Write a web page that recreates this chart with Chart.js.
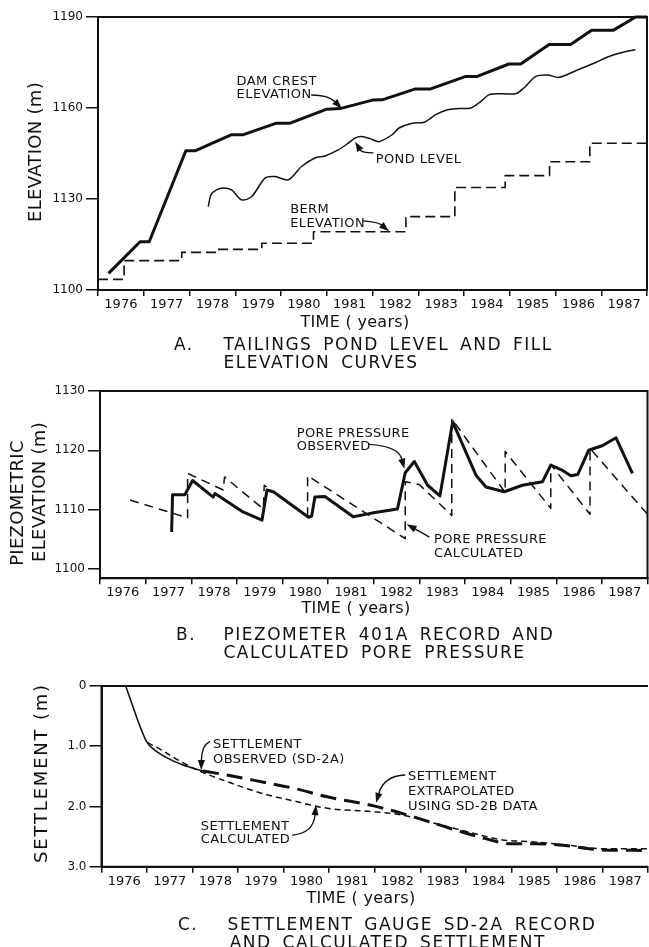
<!DOCTYPE html>
<html><head><meta charset="utf-8">
<script src="https://cdn.jsdelivr.net/npm/chart.js@4/dist/chart.umd.min.js"></script>
<style>
html,body{margin:0;padding:0;background:#fff;}
#page{position:relative;width:649px;height:947px;overflow:hidden;background:#fff;font-family:"DejaVu Sans",sans-serif;color:#111;}
canvas{position:absolute;left:0;top:0;}
.t{position:absolute;white-space:nowrap;line-height:1;}
.r{position:absolute;white-space:nowrap;line-height:1;transform:translate(-50%,-50%) rotate(-90deg);}
</style></head>
<body><div id="page">
<canvas id="cA" width="649" height="947"></canvas>
<canvas id="cB" width="649" height="947"></canvas>
<canvas id="cC" width="649" height="947"></canvas>
</div>
<script>
// ---------- DATA ----------
const yearLabels = ['1976','1977','1978','1979','1980','1981','1982','1983','1984','1985','1986','1987'];

// Panel A: tailings pond level and fill elevation
const elevTicks = [1100, 1130, 1160, 1190];
const damYears = [1976.23,1976.92,1977.12,1977.92,1978.12,1978.92,1979.18,1979.9,1980.2,1981.0,1981.29,1982.0,1982.21,1982.94,1983.27,1984.04,1984.29,1984.98,1985.24,1985.86,1986.33,1986.79,1987.26,1987.75,1988.0];
const damElev  = [1105.5,1115.9,1115.9,1145.9,1145.9,1151.2,1151.2,1155.0,1155.0,1159.6,1159.8,1162.6,1162.7,1166.3,1166.3,1170.4,1170.4,1174.5,1174.5,1180.9,1180.9,1185.6,1185.6,1190.0,1190.0];
const pondYears = [1978.41,1978.47,1978.59,1978.74,1978.92,1979.14,1979.36,1979.65,1979.87,1980.16,1980.45,1980.74,1980.96,1981.25,1981.47,1981.62,1981.76,1981.95,1982.14,1982.43,1982.58,1982.87,1983.13,1983.38,1983.64,1983.89,1984.15,1984.37,1984.55,1984.84,1985.13,1985.31,1985.57,1985.82,1986.08,1986.44,1986.88,1987.17,1987.46,1987.75];
const pondElev  = [1127.5,1131.4,1133.0,1133.6,1133.0,1129.7,1130.8,1136.9,1137.4,1136.3,1140.7,1143.5,1144.2,1146.2,1148.4,1150.1,1150.6,1149.9,1148.9,1151.2,1153.4,1155.0,1155.3,1157.8,1159.4,1159.8,1160.0,1162.2,1164.4,1164.7,1164.7,1166.6,1170.4,1170.9,1170.1,1172.3,1175.0,1177.0,1178.3,1179.2];
const bermYears = [1976.0,1976.57,1977.83,1978.59,1979.58,1980.71,1982.73,1983.8,1984.9,1985.87,1986.75,1988.0];
const bermElev  = [1103.5,1109.7,1112.4,1113.4,1115.4,1119.2,1124.2,1133.8,1137.7,1142.3,1148.4,1148.4];

// Panel B: piezometer 401A record and calculated pore pressure
const piezoTicks = [1100, 1110, 1120, 1130];
const obsYears = [1977.57,1977.59,1977.86,1978.03,1978.48,1978.52,1979.11,1979.55,1979.66,1979.8,1980.57,1980.64,1980.71,1980.93,1981.55,1981.96,1982.52,1982.69,1982.89,1983.18,1983.45,1983.73,1984.02,1984.24,1984.46,1984.86,1985.26,1985.7,1985.88,1986.14,1986.32,1986.47,1986.71,1987.02,1987.31,1987.67];
const obsElev  = [1106.2,1112.5,1112.5,1114.9,1112.1,1112.7,1109.7,1108.2,1113.3,1113.0,1108.7,1108.9,1112.1,1112.2,1108.8,1109.4,1110.1,1116.2,1118.1,1114.1,1112.3,1124.8,1119.7,1115.8,1113.8,1113.0,1114.1,1114.7,1117.5,1116.6,1115.7,1115.9,1120.0,1120.8,1122.1,1116.1];
const calcYears = [1976.66,1977.92,1977.92,1978.7,1978.73,1979.58,1979.6,1980.55,1980.55,1982.69,1982.69,1983.0,1983.71,1983.71,1984.88,1984.88,1985.88,1985.88,1986.74,1986.74,1988.0];
const calcElev  = [1111.6,1108.6,1116.1,1113.3,1115.5,1110.1,1114.1,1108.8,1115.7,1105.1,1114.7,1114.2,1109.0,1125.3,1112.9,1119.8,1110.2,1117.6,1109.2,1120.3,1109.2];

// Panel C: settlement gauge SD-2A record and calculated settlement
const settleTicks = [0, 1, 2, 3];
const settleTickLabels = ['0', '1.0', '2.0', '3.0'];
const sObsYears = [1976.53,1976.99,1977.17,1977.46,1977.79,1978.23];
const sObsVal   = [0.0,0.925,1.063,1.201,1.312,1.412];
const sExtYears = [1978.23,1978.63,1979.51,1980.23,1980.96,1981.98,1982.29,1982.58,1983.31,1983.9,1984.41,1984.99,1985.5,1986.08,1986.96,1988.0];
const sExtVal   = [1.412,1.462,1.59,1.70,1.84,1.99,2.05,2.11,2.28,2.42,2.53,2.62,2.62,2.64,2.72,2.73];
const sCalcYears = [1977.01,1977.32,1977.68,1978.19,1978.77,1979.51,1980.23,1980.96,1981.85,1982.58,1983.31,1984.04,1984.77,1985.5,1986.23,1986.96,1988.0];
const sCalcVal   = [0.94,1.063,1.229,1.424,1.59,1.78,1.91,2.03,2.08,2.14,2.28,2.42,2.55,2.59,2.64,2.70,2.70];

// ---------- HELPERS ----------
const FONT = '"DejaVu Sans", sans-serif';
const INK = '#111';
const pts = (xs, ys) => xs.map((x, i) => ({x: x, y: ys[i]}));
const page = document.getElementById('page');

function addText(s, left, baseline, size, ls, ws) {
  const d = document.createElement('div');
  d.className = 't'; d.textContent = s;
  d.style.left = left + 'px';
  d.style.top = (baseline - 0.846 * size) + 'px';
  d.style.fontSize = size + 'px';
  d.style.letterSpacing = (ls || 0) + 'px';
  d.style.wordSpacing = (ws || 0) + 'px';
  page.appendChild(d);
}
function addCentered(s, cx, baseline, size, ls, ws) {
  const d = document.createElement('div');
  d.className = 't'; d.textContent = s;
  d.style.left = cx + 'px';
  d.style.top = (baseline - 0.846 * size) + 'px';
  d.style.fontSize = size + 'px';
  d.style.letterSpacing = (ls || 0) + 'px';
  d.style.wordSpacing = (ws || 0) + 'px';
  d.style.transform = 'translateX(-50%)';
  page.appendChild(d);
}
function addRot(s, cx, cy, size, ls) {
  const d = document.createElement('div');
  d.className = 'r'; d.textContent = s;
  d.style.left = cx + 'px'; d.style.top = cy + 'px';
  d.style.fontSize = size + 'px';
  d.style.letterSpacing = (ls || 0) + 'px';
  page.appendChild(d);
}

function xAxis() {
  return {
    type: 'linear', min: 1976, max: 1988,
    afterBuildTicks: s => { const t = []; for (let i = 0; i <= yearLabels.length * 2; i++) t.push({value: 1976 + i / 2}); s.ticks = t; },
    afterFit: s => { s.height = 22; },
    ticks: { autoSkip: false, maxRotation: 0, minRotation: 0, padding: 1, color: INK, font: {family: FONT, size: 13},
      callback: v => { const k = Math.round((v - 1976) * 2); return k % 2 === 1 ? yearLabels[(k - 1) / 2] : ''; } },
    grid: { drawOnChartArea: false, drawTicks: true, tickLength: 6, lineWidth: 1.5,
      color: c => (c.tick && Math.round((c.tick.value - 1976) * 2) % 2 === 0) ? INK : 'rgba(0,0,0,0)' },
    border: { display: true, color: INK, width: 2 }
  };
}
function yAxis(min, max, tickVals, tickLabels, width, reverse) {
  return {
    type: 'linear', min: min, max: max, reverse: !!reverse,
    afterBuildTicks: s => { s.ticks = tickVals.map(v => ({value: v})); },
    afterFit: s => { s.width = width; },
    ticks: { padding: 3, color: INK, font: {family: FONT, size: 12},
      callback: v => { const i = tickVals.indexOf(v); return i >= 0 ? tickLabels[i] : ''; } },
    grid: { drawOnChartArea: false, drawTicks: true, tickLength: 12, lineWidth: 1.5, color: INK },
    border: { display: true, color: INK, width: 2 }
  };
}

const annot = {
  id: 'annot',
  afterDatasetsDraw(chart, args, opts) {
    const ctx = chart.ctx, xs = chart.scales.x, ys = chart.scales.y, ca = chart.chartArea;
    ctx.save();
    ctx.strokeStyle = INK; ctx.lineWidth = 2;
    ctx.beginPath();
    ctx.moveTo(ca.left, ca.top); ctx.lineTo(ca.right, ca.top);
    if (!opts.noRight) { ctx.lineTo(ca.right, ca.bottom); } else { ctx.moveTo(ca.right, ca.bottom); }
    ctx.lineTo(ca.left, ca.bottom); ctx.lineTo(ca.left, ca.top);
    ctx.stroke();
    ctx.fillStyle = INK;
    ctx.font = '13px ' + FONT;
    ctx.textBaseline = 'alphabetic'; ctx.textAlign = 'left';
    if ('letterSpacing' in ctx) ctx.letterSpacing = '0.4px';
    (opts.texts || []).forEach(t => ctx.fillText(t.s, xs.getPixelForValue(t.x), ys.getPixelForValue(t.y)));
    ctx.lineWidth = 1.4; ctx.lineCap = 'round';
    (opts.arrows || []).forEach(a => {
      const fx = xs.getPixelForValue(a.from[0]), fy = ys.getPixelForValue(a.from[1]);
      const cx = xs.getPixelForValue(a.ctrl[0]), cy = ys.getPixelForValue(a.ctrl[1]);
      const tx = xs.getPixelForValue(a.to[0]), ty = ys.getPixelForValue(a.to[1]);
      const ang = Math.atan2(ty - cy, tx - cx), L = 10, W = 3.6;
      const bx = tx - L * Math.cos(ang), by = ty - L * Math.sin(ang);
      ctx.beginPath(); ctx.moveTo(fx, fy); ctx.quadraticCurveTo(cx, cy, bx, by); ctx.stroke();
      ctx.beginPath();
      ctx.moveTo(tx, ty);
      ctx.lineTo(bx + W * Math.sin(ang), by - W * Math.cos(ang));
      ctx.lineTo(bx - W * Math.sin(ang), by + W * Math.cos(ang));
      ctx.closePath(); ctx.fill();
    });
    ctx.restore();
  }
};

function line(data, width, dash, extra) {
  return Object.assign({ data: data, borderColor: INK, borderWidth: width, borderDash: dash || [],
    pointRadius: 0, fill: false, tension: 0, borderJoinStyle: 'round', clip: 4 }, extra || {});
}

function makeChart(id, box, datasets, y, annotOpts) {
  return new Chart(document.getElementById(id), {
    type: 'line',
    data: { datasets: datasets },
    options: {
      responsive: false, animation: false, devicePixelRatio: 1, events: [],
      layout: { padding: { left: 0, top: box.top, right: 649 - box.right, bottom: 947 - box.bottom - 22 } },
      scales: { x: xAxis(), y: y },
      plugins: { legend: {display: false}, tooltip: {enabled: false}, annot: annotOpts }
    },
    plugins: [annot]
  });
}

// ---------- PANEL A ----------
makeChart('cA', {top: 17, right: 647, bottom: 290}, [
  line(pts(damYears, damElev), 3),
  line(pts(pondYears, pondElev), 1.5, [], {tension: 0.3}),
  line(pts(bermYears, bermElev), 1.6, [10, 5], {stepped: 'before'})
], yAxis(1100, 1190, elevTicks, elevTicks.map(String), 98), {
  texts: [
    {s: 'DAM CREST', x: 1979.03, y: 1167.6}, {s: 'ELEVATION', x: 1979.03, y: 1163.2},
    {s: 'POND LEVEL', x: 1982.07, y: 1142.0},
    {s: 'BERM', x: 1980.2, y: 1125.3}, {s: 'ELEVATION', x: 1980.2, y: 1120.9}
  ],
  arrows: [
    {from: [1980.67, 1164.3], ctrl: [1981.03, 1164.3], to: [1981.33, 1159.8]},
    {from: [1982.01, 1145.2], ctrl: [1981.77, 1145.2], to: [1981.62, 1148.9]},
    {from: [1981.8, 1122.8], ctrl: [1982.12, 1122.4], to: [1982.36, 1119.4]}
  ]
});

// ---------- PANEL B ----------
makeChart('cB', {top: 391, right: 647.5, bottom: 578.3}, [
  line(pts(obsYears, obsElev), 3),
  line(pts(calcYears, calcElev), 1.5, [9, 6])
], yAxis(1098.4, 1130, piezoTicks, piezoTicks.map(String), 100), {
  texts: [
    {s: 'PORE PRESSURE', x: 1980.31, y: 1122.2}, {s: 'OBSERVED', x: 1980.31, y: 1120.0},
    {s: 'PORE PRESSURE', x: 1983.32, y: 1104.3}, {s: 'CALCULATED', x: 1983.32, y: 1102.0}
  ],
  arrows: [
    {from: [1981.9, 1121.0], ctrl: [1982.54, 1120.7], to: [1982.67, 1116.9]},
    {from: [1983.21, 1105.4], ctrl: [1982.96, 1106.5], to: [1982.72, 1107.5]}
  ]
});

// ---------- PANEL C ----------
makeChart('cC', {top: 686, right: 648.5, bottom: 866.7}, [
  line(pts(sObsYears, sObsVal), 1.6, [], {cubicInterpolationMode: 'monotone'}),
  line(pts(sExtYears, sExtVal), 3, [16, 8], {cubicInterpolationMode: 'monotone'}),
  line(pts(sCalcYears, sCalcVal), 1.5, [6, 4], {cubicInterpolationMode: 'monotone'})
], yAxis(0, 3, settleTicks, settleTickLabels, 101.5, true), {
  noRight: true,
  texts: [
    {s: 'SETTLEMENT', x: 1978.45, y: 1.035}, {s: 'OBSERVED (SD-2A)', x: 1978.45, y: 1.284},
    {s: 'SETTLEMENT', x: 1978.18, y: 2.39}, {s: 'CALCULATED', x: 1978.18, y: 2.61},
    {s: 'SETTLEMENT', x: 1982.73, y: 1.56}, {s: 'EXTRAPOLATED', x: 1982.73, y: 1.81}, {s: 'USING SD-2B DATA', x: 1982.73, y: 2.06}
  ],
  arrows: [
    {from: [1978.37, 0.925], ctrl: [1978.2, 0.997], to: [1978.19, 1.395]},
    {from: [1980.2, 2.475], ctrl: [1980.65, 2.44], to: [1980.71, 1.977]},
    {from: [1982.66, 1.478], ctrl: [1982.2, 1.495], to: [1982.03, 1.94]}
  ]
});

// ---------- TITLES ----------
addRot('ELEVATION (m)', 35, 152, 18, 0.3);
addCentered('TIME ( years)', 355, 328, 16, 0.3);
addText('A.', 174, 350, 17, 1.5);
addText('TAILINGS POND LEVEL AND FILL', 223.5, 350, 17, 1.5, 4);
addText('ELEVATION CURVES', 223.5, 368.3, 17, 1.5, 4);

addRot('PIEZOMETRIC', 16.5, 502.5, 18, 0.3);
addRot('ELEVATION (m)', 39, 492, 18, 0.3);
addCentered('TIME ( years)', 356, 614, 16, 0.3);
addText('B.', 176, 640, 17, 1.5);
addText('PIEZOMETER 401A RECORD AND', 223.5, 640, 17, 1.5, 4);
addText('CALCULATED PORE PRESSURE', 223.5, 658, 17, 1.5, 4);

addRot('SETTLEMENT (m)', 41, 773, 18, 1.8);
addCentered('TIME ( years)', 361, 904, 16, 0.3);
addText('C.', 178, 930, 17, 1.5);
addText('SETTLEMENT GAUGE SD-2A RECORD', 227.6, 930, 17, 1.5, 4);
addText('AND CALCULATED SETTLEMENT', 229.7, 948, 17, 1.5, 4);
</script>
</body></html>
